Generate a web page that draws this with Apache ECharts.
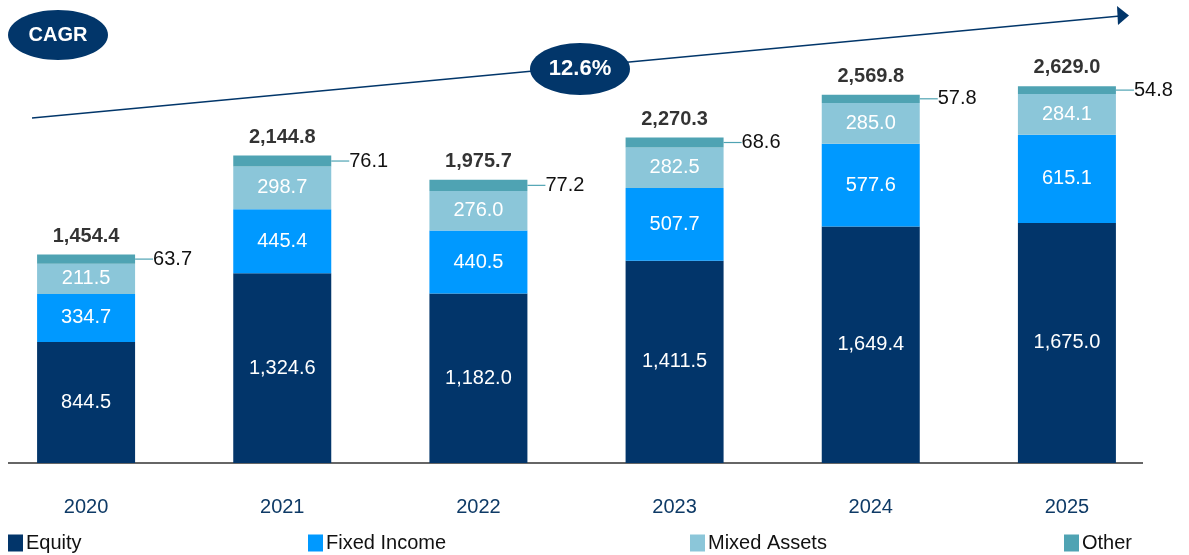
<!DOCTYPE html>
<html>
<head>
<meta charset="utf-8">
<script src="https://cdn.jsdelivr.net/npm/echarts@6/dist/echarts.min.js"></script>
<style>
  html, body { margin: 0; padding: 0; background: #fff; overflow: hidden; }
  #wrap { position: relative; width: 1189px; height: 555px; overflow: hidden; }
  /* chart is 12px wider and shifted left so the first bar sits near the edge like the original */
  #chart { position: absolute; left: -12px; top: 0; width: 1201px; height: 555px; }
</style>
</head>
<body>
<div id="wrap"><div id="chart"></div></div>
<script>
const years = ['2020', '2021', '2022', '2023', '2024', '2025']
const equity = [844.5, 1324.6, 1182.0, 1411.5, 1649.4, 1675.0]
const fixedIncome = [334.7, 445.4, 440.5, 507.7, 577.6, 615.1]
const mixedAssets = [211.5, 298.7, 276.0, 282.5, 285.0, 284.1]
const other = [63.7, 76.1, 77.2, 68.6, 57.8, 54.8]
const totals = [1454.4, 2144.8, 1975.7, 2270.3, 2569.8, 2629.0]
const cagrText = '12.6%'

const FONT = 'Liberation Sans, Arial, sans-serif'
const NAVY = '#02366a'
const OFF = 12 // horizontal shift of the canvas
const colors = {
  equity: '#02356a',
  fixed: '#0099ff',
  mixed: '#8bc6d9',
  other: '#4fa3b3'
}

const fmt = v => v.toLocaleString('en-US', { minimumFractionDigits: 1, maximumFractionDigits: 1 })

const chart = echarts.init(document.getElementById('chart'))

function innerLabel() {
  return {
    show: true,
    position: 'inside',
    color: '#fff',
    fontFamily: FONT,
    fontSize: 20,
    formatter: p => fmt(p.value)
  }
}

function legendAt(left, name) {
  return {
    left: left + OFF,
    bottom: -3,
    data: [name],
    icon: 'rect',
    itemWidth: 15,
    itemHeight: 17,
    itemGap: 0,
    textStyle: { fontFamily: FONT, fontSize: 20, color: '#111', padding: [2, 0, 0, -2] },
    selectedMode: false
  }
}

const option = {
  animation: false,
  grid: { left: 0, right: 24, top: 33, bottom: 92, containLabel: false },
  legend: [
    legendAt(3, 'Equity'),
    legendAt(303, 'Fixed Income'),
    legendAt(685, 'Mixed Assets'),
    legendAt(1059, 'Other')
  ],
  xAxis: {
    type: 'category',
    data: years,
    axisLine: { show: false },
    axisTick: { show: false },
    axisLabel: { color: '#0e3a66', fontFamily: FONT, fontSize: 20, margin: 34 }
  },
  yAxis: {
    type: 'value',
    min: 0,
    max: 3000,
    show: false
  },
  series: [
    {
      name: 'Equity', type: 'bar', stack: 'aum', barWidth: 98,
      itemStyle: { color: colors.equity },
      label: innerLabel(),
      data: equity
    },
    {
      name: 'Fixed Income', type: 'bar', stack: 'aum',
      itemStyle: { color: colors.fixed },
      label: innerLabel(),
      data: fixedIncome
    },
    {
      name: 'Mixed Assets', type: 'bar', stack: 'aum',
      itemStyle: { color: colors.mixed },
      label: innerLabel(),
      data: mixedAssets
    },
    {
      name: 'Other', type: 'bar', stack: 'aum',
      itemStyle: { color: colors.other },
      label: {
        show: true,
        position: 'right',
        distance: 3,
        color: '#111',
        fontFamily: FONT,
        fontSize: 20,
        formatter: p => fmt(p.value)
      },
      labelLayout: { dx: 15 },
      labelLine: { show: true, length2: 0, lineStyle: { color: colors.other, width: 1.2 } },
      data: other
    },
    {
      name: 'Total', type: 'scatter', symbolSize: 1,
      itemStyle: { color: 'rgba(0,0,0,0)' },
      label: {
        show: true,
        position: 'top',
        distance: 8,
        color: '#000',
        fontFamily: FONT,
        fontWeight: 'bold',
        fontSize: 20,
        formatter: p => fmt(p.value)
      },
      data: totals
    }
  ],
  graphic: [
    // baseline of the bars
    { type: 'line', shape: { x1: 8 + OFF, y1: 463, x2: 1143 + OFF, y2: 463 }, style: { stroke: '#666', lineWidth: 2 } },
    // CAGR arrow
    { type: 'line', shape: { x1: 32 + OFF, y1: 118, x2: 1120 + OFF, y2: 16 }, style: { stroke: NAVY, lineWidth: 1.6 } },
    { type: 'polygon', shape: { points: [[1117 + OFF, 6], [1129 + OFF, 15.5], [1118 + OFF, 25]] }, style: { fill: NAVY } },
    {
      type: 'ellipse', shape: { cx: 580 + OFF, cy: 69, rx: 50, ry: 26 }, style: { fill: NAVY }, z: 10
    },
    {
      type: 'text', x: 580 + OFF, y: 69, z: 11,
      style: { text: cagrText, fill: '#fff', font: 'bold 22px ' + FONT, align: 'center', verticalAlign: 'middle' }
    },
    {
      type: 'ellipse', shape: { cx: 58 + OFF, cy: 35, rx: 50, ry: 25 }, style: { fill: NAVY }, z: 10
    },
    {
      type: 'text', x: 58 + OFF, y: 35, z: 11,
      style: { text: 'CAGR', fill: '#fff', font: 'bold 20px ' + FONT, align: 'center', verticalAlign: 'middle' }
    }
  ]
}

chart.setOption(option)
</script>
</body>
</html>
